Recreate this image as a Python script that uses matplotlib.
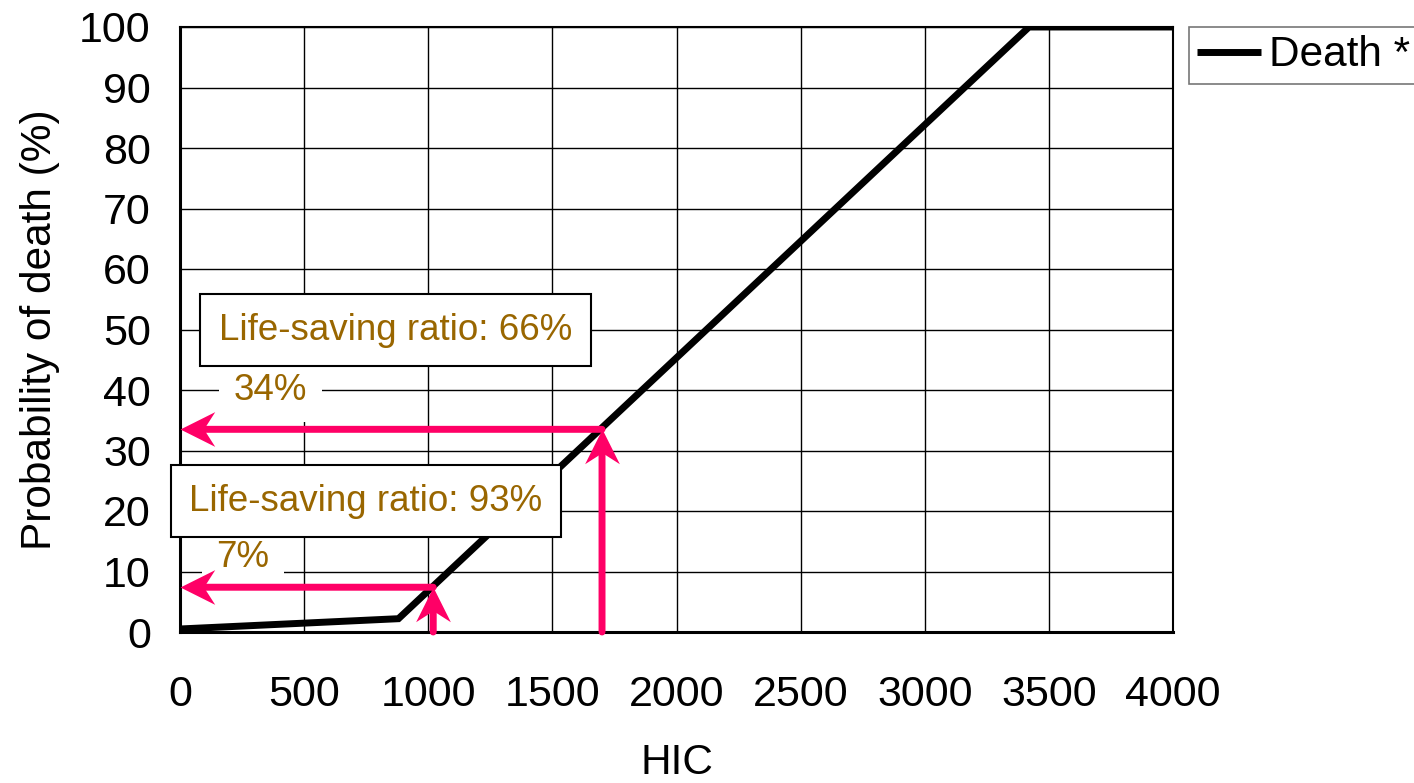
import matplotlib
matplotlib.use("Agg")
import matplotlib.pyplot as plt
from matplotlib.path import Path

plt.rcParams['font.family'] = ['Liberation Sans', 'DejaVu Sans']

# Data
hic = [0, 880, 3420, 4000]
death_prob = [0.5, 2.2, 100, 100]
series_label = "Death *"

x_ticks = [0, 500, 1000, 1500, 2000, 2500, 3000, 3500, 4000]
y_ticks = [0, 10, 20, 30, 40, 50, 60, 70, 80, 90, 100]

arrow_hic = [1700, 1020]
arrow_prob = [33.5, 7.4]
pct_labels = ["34%", "7%"]
ratio_labels = ["Life-saving ratio: 66%", "Life-saving ratio: 93%"]

text_color = "#996600"
arrow_color = "#FF0066"

fig = plt.figure(figsize=(14.14, 7.83), dpi=100)
ax = fig.add_axes([180/1414, 1-632/783, (1173-180)/1414, (632-27)/783])

ax.plot(hic, death_prob, color="black", lw=5, solid_capstyle="butt",
        solid_joinstyle="miter", zorder=3, label=series_label)

ax.set_xlim(0, 4000)
ax.set_ylim(0, 100)
ax.set_xticks(x_ticks)
ax.set_yticks(y_ticks)
ax.grid(True, color="black", lw=1)
ax.set_axisbelow(True)
ax.tick_params(axis="both", length=0, labelsize=31)
ax.tick_params(axis="x", pad=31)
ax.tick_params(axis="y", pad=21)
for s in ["left", "bottom"]:
    ax.spines[s].set_linewidth(2.2)
for s in ["top", "right"]:
    ax.spines[s].set_linewidth(1.5)

ax.set_xlabel("HIC", fontsize=30.5, labelpad=20)
ax.set_ylabel("Probability of death (%)", fontsize=30.5, labelpad=14)

# stealth arrowhead markers (tip at the origin)
codes = [Path.MOVETO, Path.LINETO, Path.LINETO, Path.LINETO, Path.CLOSEPOLY]
head_left = Path([(0, 0), (1, 0.5), (0.68, 0), (1, -0.5), (0, 0)], codes)
head_up = Path([(0, 0), (0.5, -1), (0, -0.68), (-0.5, -1), (0, 0)], codes)
ms = 50

for hx, py in zip(arrow_hic, arrow_prob):
    # horizontal shaft to the y axis
    ax.annotate("", xy=(0, py), xytext=(hx, py),
                arrowprops=dict(arrowstyle="-", lw=5, color=arrow_color,
                                shrinkA=0, shrinkB=14),
                zorder=4, annotation_clip=False)
    ax.plot([0], [py], marker=head_left, ms=ms, color=arrow_color, mew=0,
            ls="none", zorder=4, clip_on=False)
    # vertical shaft from the x axis
    ax.annotate("", xy=(hx, py), xytext=(hx, 0),
                arrowprops=dict(arrowstyle="-", lw=5, color=arrow_color,
                                shrinkA=0, shrinkB=14),
                zorder=4, annotation_clip=False)
    ax.plot([hx], [py], marker=head_up, ms=ms, color=arrow_color, mew=0,
            ls="none", zorder=4, clip_on=False)

# percentage labels
pct_pos = [(363, 40.0), (254, 12.3)]
for (tx, ty), lab in zip(pct_pos, pct_labels):
    ax.text(tx, ty, lab, fontsize=26.5, color=text_color, ha="center", va="center",
            zorder=3.5, bbox=dict(boxstyle="square,pad=0.4", fc="white", ec="none"))

# ratio boxes
ratio_pos = [(868, 49.9), (749, 21.6)]
for (tx, ty), lab in zip(ratio_pos, ratio_labels):
    ax.text(tx, ty, lab, fontsize=26.5, color=text_color, ha="center", va="center",
            zorder=6, bbox=dict(boxstyle="square,pad=0.5", fc="white", ec="black", lw=1.5))

leg = ax.legend(loc="upper left", bbox_to_anchor=(1.016, 1.0), fontsize=30.5,
                frameon=True, fancybox=False, edgecolor="#555555", handlelength=1.5,
                handletextpad=0.2, borderpad=0.2, borderaxespad=0)
leg.get_frame().set_linewidth(1.2)

fig.savefig("out.png", dpi=100)
